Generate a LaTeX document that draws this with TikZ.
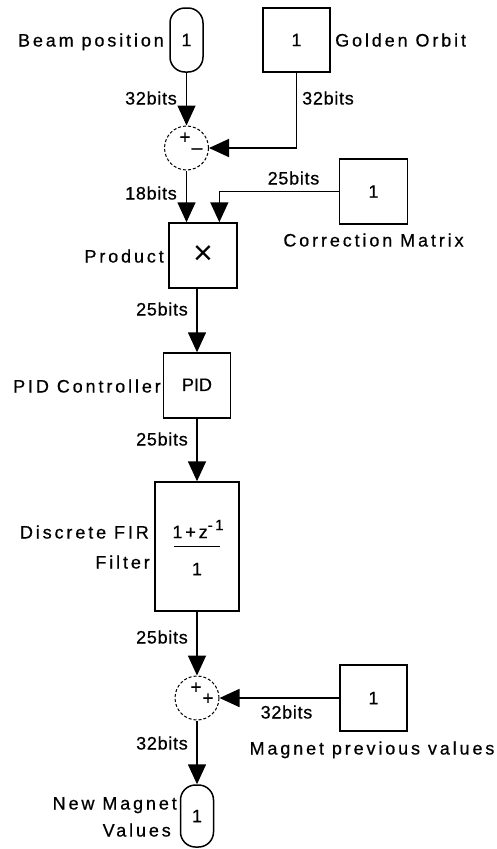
\documentclass[tikz,border=0pt]{standalone}
\usepackage{fontspec}
\setmainfont{Liberation Sans}[FakeBold=0.6]
\newfontfamily\blkfont[LetterSpace=16,FakeBold=0.6]{Liberation Sans}
\newfontfamily\sigfont[LetterSpace=4,FakeBold=0.6]{Liberation Sans}
\newfontfamily\thinfont{Liberation Sans}
\usetikzlibrary{arrows.meta,calc}
\begin{document}
\begin{tikzpicture}[x=1pt,y=-1pt,
  box/.style={draw,line width=1.5pt,inner sep=0pt,font=\fontsize{18}{20}\selectfont},
  port/.style={box,rounded corners=15pt,minimum width=33pt},
  sumc/.style={circle,draw,dash pattern=on 3pt off 2pt,line width=1pt,minimum size=44pt,inner sep=0pt},
  sign/.style={inner sep=0pt,font=\fontsize{19}{19}\selectfont},
  conn/.style={line width=1.6pt,-{Triangle[width=18pt,length=20pt]}},
  lbl/.style={inner sep=0pt,font=\blkfont\fontsize{18}{20}\selectfont,text height=13pt,text depth=0pt},
  sig/.style={inner sep=0pt,font=\sigfont\fontsize{18}{20}\selectfont,text height=13pt,text depth=0pt}]
\useasboundingbox (0,0) rectangle (496,849);

% blocks
\node[port,minimum height=64pt] (in1) at (186.5,40) {1};
\node[box,minimum width=67pt,minimum height=64pt] (gold) at (296.5,40) {1};
\node[sumc] (sum1) at (186.5,148) {};
\node[sign] (s1p) at (185,138) {+};
\node[sign] (s1m) at (197,151) {\textendash};
\node[box,minimum width=68pt,minimum height=65pt] (corr) at (373.5,191.5) {1};
\node[box,minimum width=68pt,minimum height=65pt,font=\thinfont\fontsize{34}{34}\selectfont] (prod) at (203,255.5) {\raisebox{1pt}{×}};
\node[box,minimum width=67pt,minimum height=65pt] (pid) at (197,385.5) {\raisebox{1.5pt}{PID}};
\node[box,minimum width=84pt,minimum height=129pt] (fir) at (197,546.5) {};
\node[inner sep=0pt,font=\blkfont\fontsize{18}{20}\selectfont] (firnum) at (198,529) {1+z\raisebox{8pt}{\fontsize{15}{15}\selectfont -1}};
\node[inner sep=0pt,font=\fontsize{18}{20}\selectfont] (firden) at (197,569) {1};
\draw[line width=1.3pt] ($(fir.center)+(-23,0)$) -- ($(fir.center)+(23,0)$);
\node[sumc] (sum2) at (197,698) {};
\node[sign] (s2a) at (196,688) {+};
\node[sign] (s2b) at (208,699) {+};
\node[box,minimum width=67pt,minimum height=66pt] (mag) at (373.5,698) {1};
\node[port,minimum height=62pt] (out1) at (197,816) {1};

% connectors
\coordinate (p2) at ($(prod.north west)!0.735!(prod.north east)$);
\draw[conn] (in1.south) -- (sum1.north);
\draw[conn] (gold.south) |- (sum1.east);
\draw[conn] (sum1.south) -- (sum1.south |- prod.north);
\draw[conn] (corr.west) -| (p2);
\draw[conn] (pid.north |- prod.south) -- (pid.north);
\draw[conn] (pid.south) -- (fir.north);
\draw[conn] (fir.south) -- (sum2.north);
\draw[conn] (mag.west) -- (sum2.east);
\draw[conn] (sum2.south) -- (out1.north);

% block labels
\node[lbl,anchor=east] (lin1) at (164,40) {Beam position};
\node[lbl,anchor=west] (lgold) at (335,40) {Golden Orbit};
\node[lbl] (lcorr) at (373.5,240) {Correction Matrix};
\node[lbl,anchor=east] (lprod) at (164,256) {Product};
\node[lbl,anchor=east] (lpid) at (161,386) {PID Controller};
\node[lbl,anchor=east] (lfir1) at (149,532) {Discrete FIR};
\node[lbl,anchor=east] (lfir2) at (150,562) {Filter};
\node[lbl] (lmag) at (372,748) {Magnet previous values};
\node[lbl,anchor=east] (lout1) at (177,803) {New Magnet};
\node[lbl,anchor=east] (lout2) at (171,830) {Values};

% signal labels
\node[sig,anchor=east] at (177,98) {32bits};
\node[sig,anchor=west] at (302,98) {32bits};
\node[sig,anchor=east] at (177,193) {18bits};
\node[sig] at (293.5,178) {25bits};
\node[sig,anchor=east] at (188,309) {25bits};
\node[sig,anchor=east] at (188,439) {25bits};
\node[sig,anchor=east] at (188,637) {25bits};
\node[sig] at (286.5,712) {32bits};
\node[sig,anchor=east] at (188,743) {32bits};
\end{tikzpicture}
\end{document}
